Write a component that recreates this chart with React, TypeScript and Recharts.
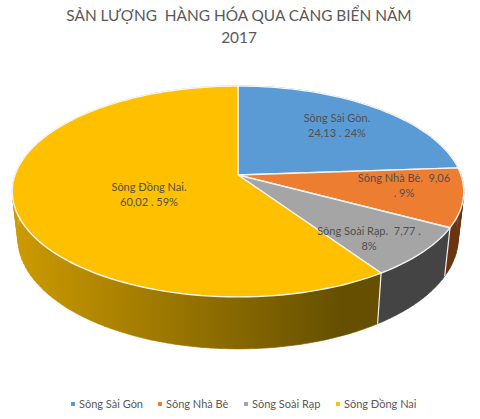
import React from "react";
import { PieChart, Pie, Cell, Legend } from "recharts";

const categories = ["Sông Sài Gòn", "Sông Nhà Bè", "Sông Soài Rạp", "Sông Đồng Nai"];
const values = [24.13, 9.06, 7.77, 60.02];
const colors = ["#5B9BD5", "#ED7D31", "#A5A5A5", "#FFC000"];
const wallColors = ["#2F5F8C", "#6B3410", "#444444", "url(#yellowWall)"];
const labelLines = [
  ["Sông Sài Gòn.", "24,13 . 24%"],
  ["Sông Nhà Bè.  9,06", ". 9%"],
  ["Sông Soài Rạp.  7,77 .", "8%"],
  ["Sông Đồng Nai.", "60,02 . 59%"],
];
const titleLines = ["SẢN LƯỢNG  HÀNG HÓA QUA CẢNG BIỂN NĂM", "2017"];

const data = categories.map((name, i) => ({ name, value: values[i] }));

// tilted disc: unit circle -> screen, with a little perspective
const RX = 223;
const RY = 102.9;
const K = 0.156;
const FONT = "Lato, Carlito, 'Noto Sans', sans-serif";

type Pt = { x: number; y: number };

const project = (cx: number, cy: number, deg: number): Pt => {
  const rad = (deg * Math.PI) / 180;
  const u = Math.cos(rad);
  const v = -Math.sin(rad);
  const w = 1 - K * v;
  return { x: cx + (RX * u) / w, y: cy + (RY * v) / w };
};

const rim = (cx: number, cy: number, start: number, end: number) => {
  const pts: Pt[] = [];
  const steps = Math.max(2, Math.ceil(Math.abs(end - start) / 2));
  for (let i = 0; i <= steps; i++) {
    pts.push(project(cx, cy, start + ((end - start) * i) / steps));
  }
  return pts;
};

const toPath = (pts: Pt[]) =>
  pts.map((p, i) => `${i ? "L" : "M"}${p.x.toFixed(1)} ${p.y.toFixed(1)}`).join(" ");

const TopSlice = (props: any) => {
  const { cx, cy, startAngle, endAngle, fill } = props;
  const d = `M${cx} ${cy} ${toPath(rim(cx, cy, startAngle, endAngle)).replace("M", "L")} Z`;
  return <path d={d} fill={fill} stroke="#F4F4F4" strokeWidth={1.4} strokeLinejoin="round" />;
};

// the lower rim is a bit narrower and the wall a bit taller towards the viewer
const WallSlice = (props: any) => {
  const { cx, cy, startAngle, endAngle, fill } = props;
  const top = rim(cx, cy, startAngle, endAngle);
  const bottom = top.map((p) => ({
    x: cx + (p.x - cx) * 0.975,
    y: p.y + 46 + (6 * (p.y - cy)) / 122,
  }));
  // one quad per rim step so the outline follows the tangent at the widest point
  const quads = top
    .slice(1)
    .map((p, i) => `${toPath([top[i], p, bottom[i + 1], bottom[i]])} Z`)
    .join(" ");
  return (
    <g>
      <path d={quads} fill={fill} stroke={fill} strokeWidth={0.6} />
      <path d={toPath([top[0], bottom[0]])} stroke="#F0F0F0" strokeWidth={1.2} fill="none" />
    </g>
  );
};

const labelAnchors = [
  { x: 337, y: 119 },
  { x: 404, y: 179 },
  { x: 369, y: 232 },
  { x: 149, y: 188 },
];

const SliceLabel = (props: any) => {
  const { index } = props;
  const at = labelAnchors[index];
  return (
    <text x={at.x} y={at.y} textAnchor="middle" fontFamily={FONT} fontSize={11} fill="#505050">
      {labelLines[index].map((line, i) => (
        <tspan key={i} x={at.x} y={at.y + i * 15} dominantBaseline="middle" xmlSpace="preserve">
          {line}
        </tspan>
      ))}
    </text>
  );
};

const LegendRow = () => (
  <div style={{ position: "absolute", left: 0, top: 396, width: 480, fontFamily: FONT, fontSize: 11, color: "#595959" }}>
    {categories.map((name, i) => (
      <span key={name} style={{ position: "absolute", left: [71, 158, 244, 336][i], whiteSpace: "nowrap", lineHeight: "16px" }}>
        <span style={{ display: "inline-block", width: 4, height: 4, background: colors[i], marginRight: 4, verticalAlign: 2 }} />
        {name}
      </span>
    ))}
  </div>
);

export default function App() {
  return (
    <div style={{ position: "absolute", left: 0, top: 0, width: 480, height: 419, background: "#fff", overflow: "hidden" }}>
      <div style={{ position: "absolute", left: 0, top: 4, width: 478, textAlign: "center", fontFamily: FONT, fontSize: 15.4, lineHeight: "22px", color: "#595959", whiteSpace: "pre" }}>
        {titleLines.map((t) => (
          <div key={t}>{t}</div>
        ))}
      </div>
      <PieChart width={480} height={419} margin={{ top: 0, right: 0, bottom: 0, left: 0 }}>
        <defs>
          <linearGradient id="yellowWall" gradientUnits="userSpaceOnUse" x1="15" y1="0" x2="340" y2="0">
            <stop offset="0%" stopColor="#CC9A00" />
            <stop offset="100%" stopColor="#665000" />
          </linearGradient>
        </defs>
        <Pie data={data} dataKey="value" nameKey="name" cx={238} cy={175} outerRadius={100} startAngle={90} endAngle={-270} legendType="none" shape={WallSlice} isAnimationActive={false} label={false}>
          {data.map((d, i) => (
            <Cell key={d.name} fill={wallColors[i]} />
          ))}
        </Pie>
        <Pie data={data} dataKey="value" nameKey="name" cx={238} cy={175} outerRadius={100} startAngle={90} endAngle={-270} shape={TopSlice} isAnimationActive={false} label={SliceLabel} labelLine={false}>
          {data.map((d, i) => (
            <Cell key={d.name} fill={colors[i]} />
          ))}
        </Pie>
        <Legend content={LegendRow} wrapperStyle={{ left: 0, top: 0, bottom: "auto", width: 480, height: 0 }} />
      </PieChart>
    </div>
  );
}
